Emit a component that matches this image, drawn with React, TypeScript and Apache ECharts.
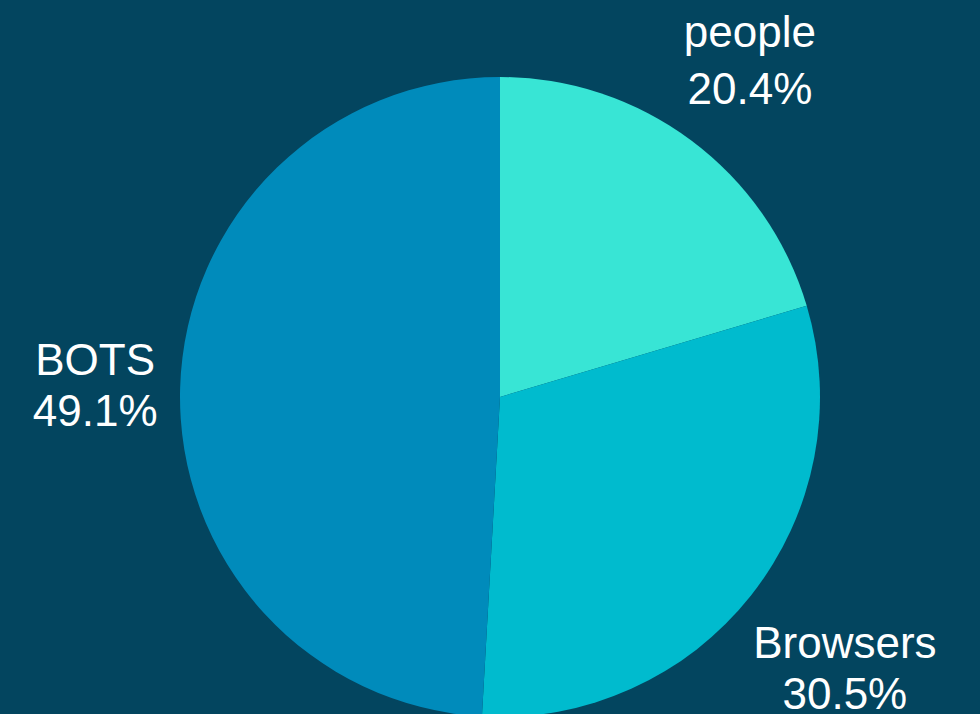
import React, { useEffect, useRef } from "react";
import * as echarts from "echarts";

const categories = ["people", "Browsers", "BOTS"];
const values = [20.4, 30.5, 49.1];
const colors = ["#38E5D5", "#00BBCE", "#008BBB"];
// label nudges (style only)
const labelOffsets = [
  [0, -2],
  [17, 12],
  [13, 0],
];
const labelLineHeights = [57, 51, 51];

export default function App() {
  const ref = useRef<HTMLDivElement>(null);
  useEffect(() => {
    if (!ref.current) return;
    const chart = echarts.init(ref.current, null, { renderer: "svg" });
    const data = categories.map((name, i) => ({
      name,
      value: values[i],
      itemStyle: { color: colors[i] },
    }));
    const total = values.reduce((a, b) => a + b, 0);
    chart.setOption({
      animation: false,
      backgroundColor: "#03455F",
      series: [
        {
          type: "pie",
          center: [500, 397],
          radius: [0, 320],
          startAngle: 90,
          clockwise: true,
          silent: true,
          label: { show: false },
          labelLine: { show: false },
          data,
        },
        {
          type: "pie",
          center: [500, 397],
          radius: [0, 830],
          startAngle: 90,
          clockwise: true,
          silent: true,
          itemStyle: { color: "rgba(0,0,0,0)" },
          labelLine: { show: false },
          label: {
            show: true,
            position: "inside",
            color: "#ffffff",
            fontFamily: "Liberation Sans, Arial, sans-serif",
            fontSize: 44,
            lineHeight: 51,
            align: "center",
            formatter: (p: any) =>
              `${p.name}\n${((p.value / total) * 100).toFixed(1)}%`,
          },
          data: categories.map((name, i) => ({
            name,
            value: values[i],
            label: { offset: labelOffsets[i], lineHeight: labelLineHeights[i] },
          })),
        },
      ],
    });
    return () => chart.dispose();
  }, []);
  return (
    <div
      ref={ref}
      style={{ position: "absolute", left: 0, top: 0, width: 980, height: 714 }}
    />
  );
}
